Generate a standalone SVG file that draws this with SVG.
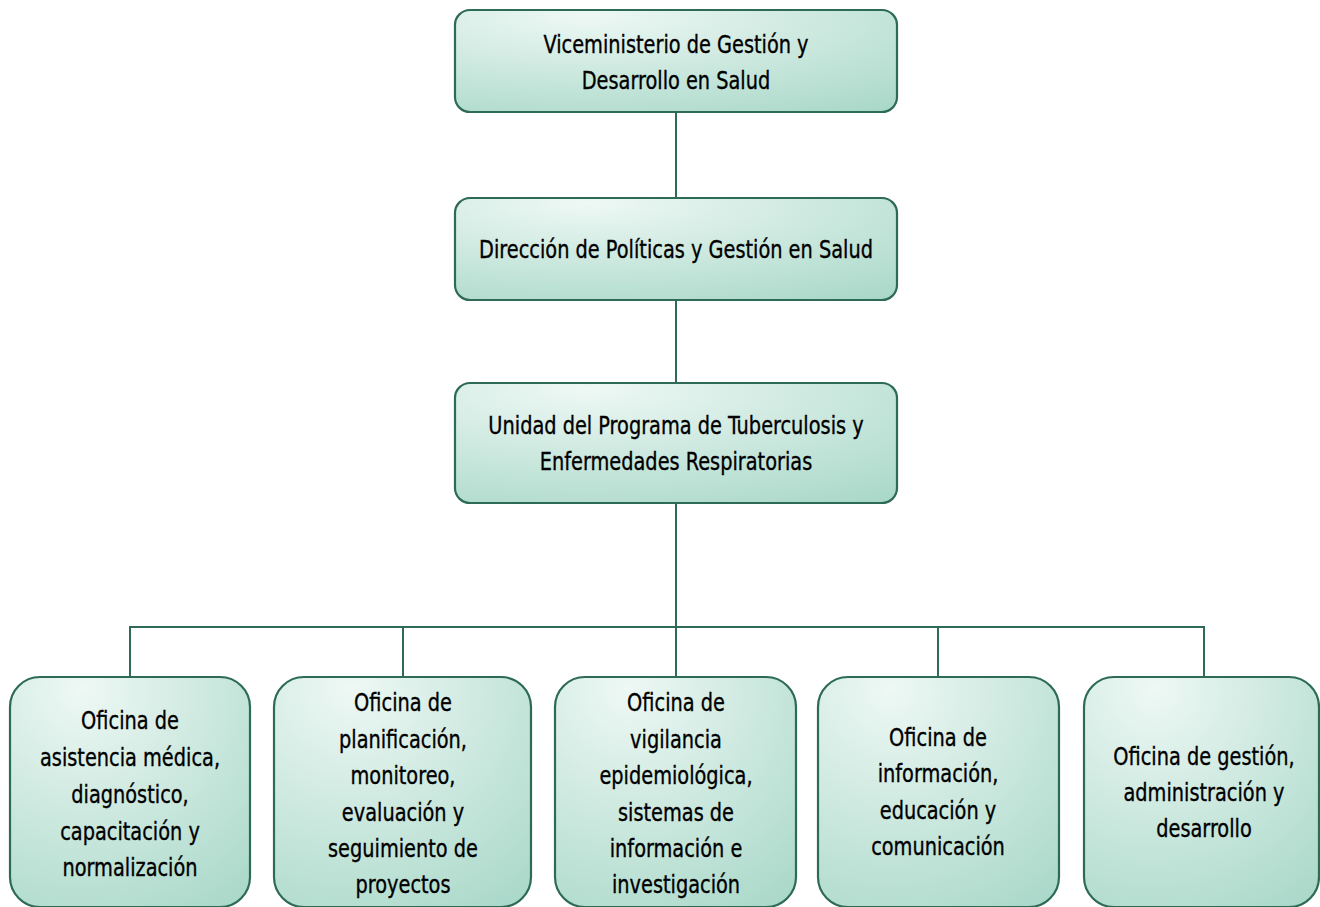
<svg xmlns="http://www.w3.org/2000/svg" width="1320" height="907" viewBox="0 0 1320 907">
<defs>
<radialGradient id="g" cx="0.3" cy="0.1" r="1.1" fx="0.3" fy="0.05">
<stop offset="0" stop-color="#eef8f4"/>
<stop offset="1" stop-color="#a9d8c9"/>
</radialGradient>
<style>
.box{fill:url(#g);stroke:#2e6b57;stroke-width:2.2}
.t{font-family:"DejaVu Sans Condensed","Liberation Sans",sans-serif;font-size:25px;fill:#000;stroke:#000;stroke-width:0.35;text-anchor:middle;dominant-baseline:central}
.c{fill:none;stroke:#2e6b57;stroke-width:2}
</style>
</defs>
<rect width="1320" height="907" fill="#fff"/>
<g id="connectors">
<line class="c" x1="676" y1="112" x2="676" y2="198"/>
<line class="c" x1="676" y1="300" x2="676" y2="383"/>
<line class="c" x1="676" y1="503" x2="676" y2="677"/>
<polyline class="c" points="130,677 130,627 1204,627 1204,677"/>
<line class="c" x1="403" y1="627" x2="403" y2="677"/>
<line class="c" x1="938" y1="627" x2="938" y2="677"/>
</g>
<g id="n1"><rect class="box" x="455" y="10" width="442" height="102" rx="15"/>
<g transform="matrix(0.86,0,0,1,676,0)">
<text class="t" x="0" y="44">Viceministerio de Gestión y</text>
<text class="t" x="0" y="80">Desarrollo en Salud</text></g></g>
<g id="n2"><rect class="box" x="455" y="198" width="442" height="102" rx="15"/>
<g transform="matrix(0.86,0,0,1,676,0)">
<text class="t" x="0" y="249">Dirección de Políticas y Gestión en Salud</text></g></g>
<g id="n3"><rect class="box" x="455" y="383" width="442" height="120" rx="15"/>
<g transform="matrix(0.86,0,0,1,676,0)">
<text class="t" x="0" y="425">Unidad del Programa de Tuberculosis y</text>
<text class="t" x="0" y="461">Enfermedades Respiratorias</text></g></g>
<g id="n4"><rect class="box" x="10" y="677" width="240" height="230" rx="30"/>
<g transform="matrix(0.86,0,0,1,130,0)">
<text class="t" x="0" y="720">Oficina de</text>
<text class="t" x="0" y="757">asistencia médica,</text>
<text class="t" x="0" y="794">diagnóstico,</text>
<text class="t" x="0" y="831">capacitación y</text>
<text class="t" x="0" y="867">normalización</text></g></g>
<g id="n5"><rect class="box" x="274" y="677" width="257" height="230" rx="30"/>
<g transform="matrix(0.86,0,0,1,403,0)">
<text class="t" x="0" y="702">Oficina de</text>
<text class="t" x="0" y="739">planificación,</text>
<text class="t" x="0" y="775">monitoreo,</text>
<text class="t" x="0" y="812">evaluación y</text>
<text class="t" x="0" y="848">seguimiento de</text>
<text class="t" x="0" y="884">proyectos</text></g></g>
<g id="n6"><rect class="box" x="555" y="677" width="241" height="230" rx="30"/>
<g transform="matrix(0.86,0,0,1,676,0)">
<text class="t" x="0" y="702">Oficina de</text>
<text class="t" x="0" y="739">vigilancia</text>
<text class="t" x="0" y="775">epidemiológica,</text>
<text class="t" x="0" y="812">sistemas de</text>
<text class="t" x="0" y="848">información e</text>
<text class="t" x="0" y="884">investigación</text></g></g>
<g id="n7"><rect class="box" x="818" y="677" width="241" height="230" rx="30"/>
<g transform="matrix(0.86,0,0,1,938,0)">
<text class="t" x="0" y="737">Oficina de</text>
<text class="t" x="0" y="773">información,</text>
<text class="t" x="0" y="810">educación y</text>
<text class="t" x="0" y="846">comunicación</text></g></g>
<g id="n8"><rect class="box" x="1084" y="677" width="235" height="230" rx="30"/>
<g transform="matrix(0.86,0,0,1,1204,0)">
<text class="t" x="0" y="756">Oficina de gestión,</text>
<text class="t" x="0" y="792">administración y</text>
<text class="t" x="0" y="828">desarrollo</text></g></g>
</svg>
